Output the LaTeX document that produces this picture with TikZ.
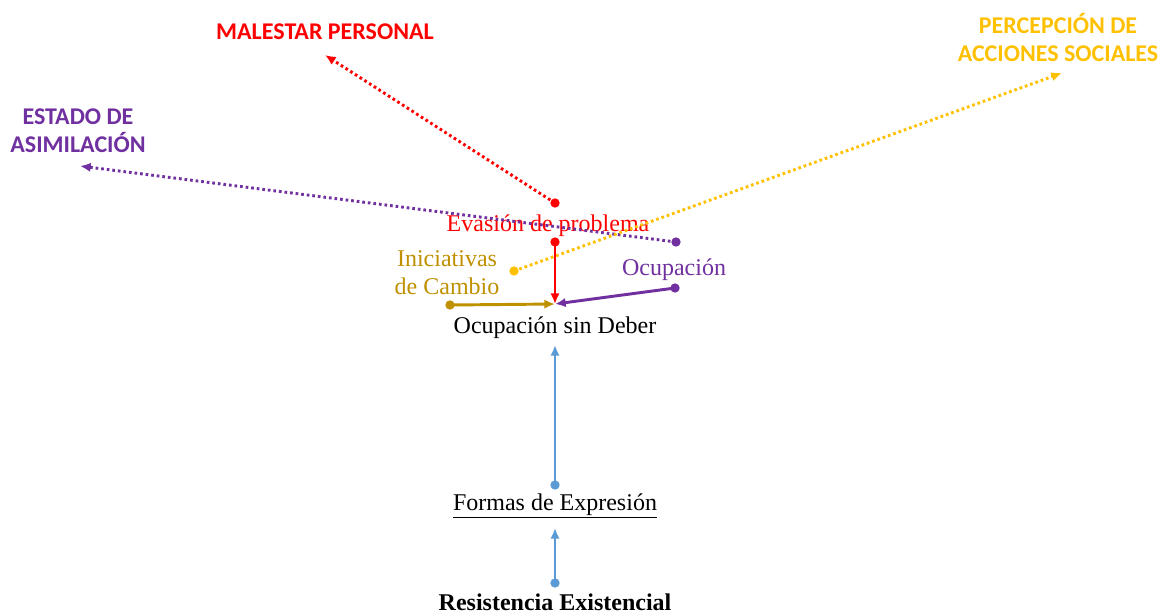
\documentclass[tikz,border=0pt]{standalone}
\usepackage{fontspec}
\setmainfont{Liberation Serif}
\newfontfamily\calib{Carlito}
\usetikzlibrary{arrows.meta}
\usetikzlibrary{positioning}
\definecolor{rojo}{HTML}{FF0000}
\definecolor{morado}{HTML}{7030A0}
\definecolor{oro}{HTML}{BF9000}
\definecolor{amarillo}{HTML}{FFC000}
\definecolor{azul}{HTML}{5B9BD5}

\begin{document}
\begin{tikzpicture}[x=0.75pt,y=-0.75pt,
  lbl/.style={font=\fontsize{18}{21}\selectfont,inner sep=0pt,align=center},
  cat/.style={font=\calib\bfseries\fontsize{18}{21}\selectfont,inner sep=0pt,align=center},
  flujo/.style={-{Latex[length=8pt,width=7pt]},line width=2.2pt},
  punteo/.style={-{Latex[length=8pt,width=7pt]},line width=2.2pt,dash pattern=on 2pt off 2.2pt},
  punto/.style={circle,fill,inner sep=0pt,minimum size=7pt}]
\useasboundingbox (0,0) rectangle (1162,614);

% etiquetas
\node[cat,text=rojo](malestar) at (325,32){MALESTAR PERSONAL};
\node[cat,text=amarillo](percep) at (1058,38){PERCEPCI\'ON DE\\ACCIONES SOCIALES};
\node[cat,text=morado](estado) at (78,131){ESTADO DE\\ASIMILACI\'ON};
\node[lbl,text=rojo](evasion) at (548,226){Evasi\'on de problema};
\node[lbl,text=oro](inic) at (447,273){Iniciativas\\de Cambio};
\node[lbl,text=morado](ocup) at (674,270){Ocupaci\'on};
\node[lbl](sindeber) at (555,328){Ocupaci\'on sin Deber};
\node[lbl](formas) at (555,506){\underline{Formas de Expresi\'on}};
\node[lbl,font=\bfseries\fontsize{18}{21}\selectfont](resist) at (555,602){Resistencia Existencial};

% puntos
\node[punto,rojo](eA) at (555,203){};
\node[punto,rojo](eB) at (555,242){};
\node[punto,morado](oA) at (676,242){};
\node[punto,morado](oB) at (675,288){};
\node[punto,amarillo](iA) at (514,271){};
\node[punto,oro](iB) at (450,305){};
\node[punto,azul](fA) at (555,485){};
\node[punto,azul](rA) at (555,583){};
\coordinate (malT) at (325,55);
\coordinate (perT) at (1062,73);
\coordinate (estT) at (80,166);
\coordinate (sdT) at (555,304);
\coordinate (sdB) at (555,345);
\coordinate (foT) at (555,528);

% flechas
\draw[punteo,rojo] (eA.center) -- (malT);
\draw[punteo,morado] (oA.center) -- (estT);
\draw[punteo,amarillo] (iA.center) -- (perT);
\draw[flujo,rojo] (eB.center) -- (sdT);
\draw[flujo,oro] (iB.center) -- (sdT);
\draw[flujo,morado] (oB.center) -- (sdT);
\draw[flujo,azul] (fA.center) -- (sdB);
\draw[flujo,azul] (rA.center) -- (foT);
\end{tikzpicture}
\end{document}
